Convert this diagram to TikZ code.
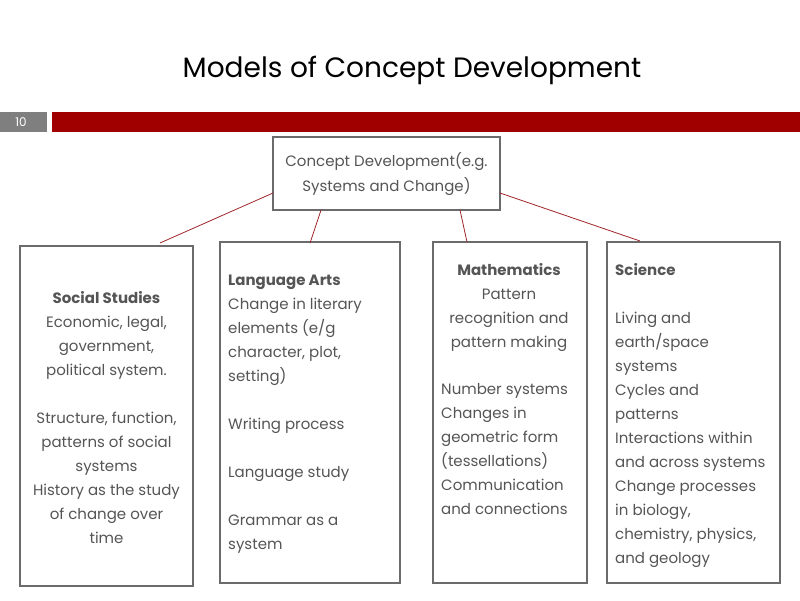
\documentclass[tikz,border=0pt]{standalone}
\usepackage{fontspec}
\setmainfont{Poppins}
\usetikzlibrary{calc}
\definecolor{txt}{HTML}{555555}
\definecolor{frame}{HTML}{6B6B6B}
\definecolor{barred}{HTML}{A00000}
\definecolor{linkred}{HTML}{A0252A}
\definecolor{numgray}{HTML}{7F7F7F}
\tikzset{
  box/.style={draw=frame, line width=1.5pt, fill=white},
  body/.style={inner sep=0pt, text=txt, font=\fontsize{15}{24}\selectfont},
  link/.style={draw=linkred, line width=0.8pt},
}
\begin{document}
\begin{tikzpicture}[x=1pt,y=-1pt]
\useasboundingbox (0,0) rectangle (800,600);
\fill[white] (0,0) rectangle (800,600);
% title
\node[text=black, font=\fontsize{28}{32}\selectfont, inner sep=0pt] (title) at (412,70) {Models of Concept Development};
% header bar
\fill[numgray] (0,112) rectangle (47,132);
\node[text=white, font=\fontsize{12}{12}\selectfont, inner sep=0pt] (num) at (21,122.5) {10};
\fill[barred] (52,112) rectangle (800,132);
% parent
\draw[box] (273,137) rectangle (500,210);
\node[body, align=center, font=\fontsize{15}{25}\selectfont] (parent) at (386.5,174.5) {Concept Development(e.g.\\Systems and Change)};
% child boxes
\draw[box] (20,246) rectangle (193,586);
\draw[box] (220,242) rectangle (400,583);
\draw[box] (433,242) rectangle (587,583);
\draw[box] (607,242) rectangle (780,583);
% coordinates for links
\coordinate (p1) at (273,193);
\coordinate (p2) at (321,210);
\coordinate (p3) at (460,210);
\coordinate (p4) at (500,193);
\coordinate (c1) at (160,243);
\coordinate (c2) at (310,243);
\coordinate (c3) at (467,242);
\coordinate (c4) at (640,241);
\draw[link] (p1) -- (c1);
\draw[link] (p2) -- (c2);
\draw[link] (p3) -- (c3);
\draw[link] (p4) -- (c4);
% texts
\node[body, align=center, anchor=north] (ss) at (106.5,291) {\textbf{Social Studies}\\Economic, legal,\\government,\\political system.\\[24pt]Structure, function,\\patterns of social\\systems\\History as the study\\of change over\\time};
\node[body, align=left, anchor=north west] (la) at (228,275) {\textbf{Language Arts}\\Change in literary\\elements (e/g\\character, plot,\\setting)\\[24pt]Writing process\\[24pt]Language study\\[24pt]Grammar as a\\system};
\node[body, align=center, anchor=north] (mh) at (509,263) {\textbf{Mathematics}\\Pattern\\recognition and\\pattern making};
\node[body, align=left, anchor=north west] (mb) at (441,383) {Number systems\\Changes in\\geometric form\\(tessellations)\\Communication\\and connections};
\node[body, align=left, anchor=north west] (sc) at (615,263) {\textbf{Science}\\[24pt]Living and\\earth/space\\systems\\Cycles and\\patterns\\Interactions within\\and across systems\\Change processes\\in biology,\\chemistry, physics,\\and geology};
\end{tikzpicture}
\end{document}
